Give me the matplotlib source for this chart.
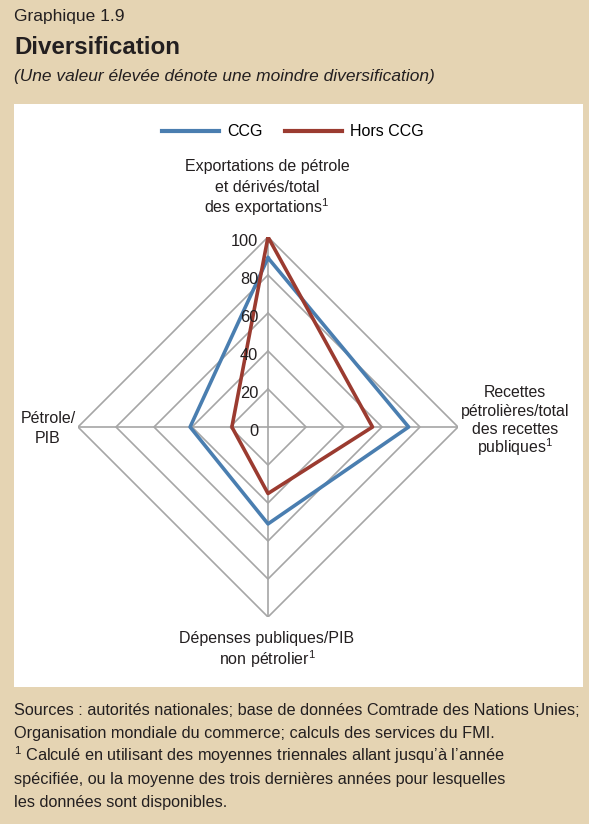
import numpy as np
import matplotlib
matplotlib.use("Agg")
import matplotlib.pyplot as plt
from matplotlib.patches import Rectangle

plt.rcParams['font.family'] = ['Liberation Sans', 'DejaVu Sans']
plt.rcParams['mathtext.fontset'] = 'custom'
plt.rcParams['mathtext.rm'] = 'Liberation Sans'
plt.rcParams['mathtext.it'] = 'Liberation Sans'

# axes: top, right, bottom, left (clockwise)
axis_labels = ["Exportations de pétrole\net dérivés/total\ndes exportations$^{1}$",
               "Recettes\npétrolières/total\ndes recettes\npubliques$^{1}$",
               "Dépenses publiques/PIB\nnon pétrolier$^{1}$",
               "Pétrole/\nPIB"]
ccg = [89, 74, 51, 41]
hors_ccg = [100, 55, 35, 19]
ring_ticks = [0, 20, 40, 60, 80, 100]

W, H = 589, 824
BG = '#E5D4B3'
BLUE = '#4A7EB0'
RED = '#9B3B30'
GRID = '#A6A6A6'
TXT = '#231F20'


def fx(x):
    return x / W


def fy(y):
    return 1 - y / H


def lines_text(x, y0, step, text, **kw):
    # one text per line so that superscripts do not upset the spacing
    for i, line in enumerate(text.split("\n")):
        fig.text(fx(x), fy(y0 + i * step), line, va='baseline', color=TXT, **kw)


fig = plt.figure(figsize=(W / 100, H / 100), dpi=100)
fig.patch.set_facecolor(BG)
fig.patches.append(Rectangle((fx(14), fy(687)), fx(583) - fx(14), fy(104) - fy(687),
                             transform=fig.transFigure, facecolor='white',
                             edgecolor='none', zorder=-5))

fig.text(fx(14), fy(16), "Graphique 1.9", fontsize=12.5, color=TXT, va='center')
fig.text(fx(14), fy(48), "Diversification", fontsize=17.4, weight='bold', color=TXT, va='center')
fig.text(fx(14), fy(76), "(Une valeur élevée dénote une moindre diversification)",
         fontsize=12.5, style='italic', color=TXT, va='center')

cx, cy, R = 268, 427, 190
ax = fig.add_axes([fx(cx - R), fy(cy + R), 2 * R / W, 2 * R / H], projection='polar')
ax.set_zorder(2)
ax.set_theta_offset(np.pi / 2)
ax.set_theta_direction(-1)
ax.set_ylim(0, 100)
ax.set_facecolor('none')
ax.grid(False)
ax.spines['polar'].set_visible(False)
ax.set_xticks([])
ax.set_yticks([])

theta = np.arange(len(axis_labels)) * 2 * np.pi / len(axis_labels)
th_closed = np.append(theta, theta[0])

for v in ring_ticks[1:]:
    ax.plot(th_closed, [v] * len(th_closed), color=GRID, lw=1.2, zorder=1)
for t in theta:
    ax.plot([t, t], [0, 100], color=GRID, lw=1.2, zorder=1)

ax.plot(th_closed, ccg + ccg[:1], color=BLUE, lw=2.6, zorder=3, label='CCG')
ax.plot(th_closed, hors_ccg + hors_ccg[:1], color=RED, lw=2.6, zorder=4, label='Hors CCG')

for v in ring_ticks:
    ax.annotate(str(v), (0, v), xytext=(-7, -3), textcoords='offset points',
                ha='right', va='center', fontsize=11.8, color=TXT, zorder=5)

lines_text(267, 171, 20.8, axis_labels[0], ha='center', fontsize=11.5)
lines_text(515, 397, 18.6, axis_labels[1], ha='center', fontsize=11.4)
lines_text(267, 643, 22, axis_labels[2], ha='center', fontsize=11.5)
lines_text(48, 423, 20, axis_labels[3], ha='center', fontsize=11.5)

leg = ax.legend(loc='center', bbox_to_anchor=(fx(293), fy(132)), bbox_transform=fig.transFigure,
                ncol=2, frameon=False, fontsize=11.5, handlelength=3.56, columnspacing=1.45,
                handletextpad=0.5)
for h in leg.get_lines():
    h.set_linewidth(3)

footer = ["Sources : autorités nationales; base de données Comtrade des Nations Unies;",
          "Organisation mondiale du commerce; calculs des services du FMI.",
          "$^{1}$ Calculé en utilisant des moyennes triennales allant jusqu\u2019à l\u2019année",
          "spécifiée, ou la moyenne des trois dernières années pour lesquelles",
          "les données sont disponibles."]
lines_text(14, 715, 22.9, "\n".join(footer), ha='left', fontsize=11.7)

fig.savefig('out.png', dpi=100, facecolor=BG)
